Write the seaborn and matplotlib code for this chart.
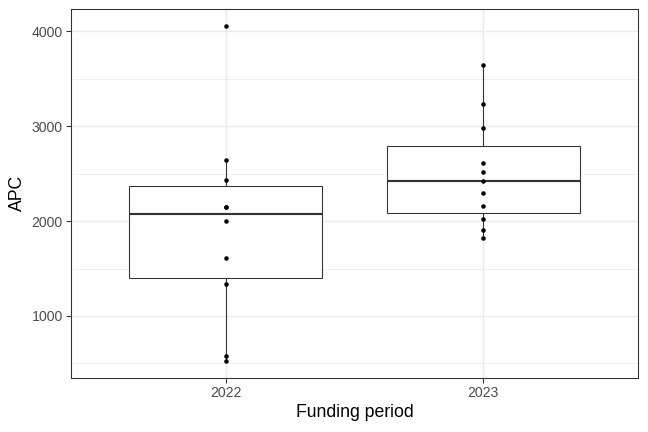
import matplotlib
matplotlib.use("Agg")
import matplotlib.pyplot as plt
import seaborn as sns
import pandas as pd
from matplotlib.ticker import MultipleLocator

periods = ["2022", "2023"]
apc_2022 = [4060, 2649, 2439, 2150, 2144, 2000, 1607, 1337, 582, 526]
apc_2023 = [3645, 3235, 2979, 2614, 2516, 2424, 2298, 2161, 2018, 1905, 1818]

df = pd.DataFrame({
    "Funding period": ["2022"] * len(apc_2022) + ["2023"] * len(apc_2023),
    "APC": apc_2022 + apc_2023,
})

sns.set_theme(style="white")
plt.rcParams["font.family"] = ["Liberation Sans", "DejaVu Sans"]

fig = plt.figure(figsize=(6.75, 4.5), dpi=96)
ax = fig.add_axes([71/648, 1-377.7/432, (638-71)/648, (377.7-9)/432])

dark = "#333333"
sns.boxplot(data=df, x="Funding period", y="APC", order=periods, ax=ax,
            width=0.75, showfliers=False, showcaps=False,
            color="white", linecolor=dark, linewidth=0.8,
            medianprops=dict(linewidth=1.6, color=dark),
            boxprops=dict(facecolor="white", edgecolor=dark),
            whiskerprops=dict(color=dark), zorder=2)
sns.stripplot(data=df, x="Funding period", y="APC", order=periods, ax=ax,
              jitter=False, color="black", size=3.4, linewidth=0, zorder=3)

ax.set_xlim(-0.6, 1.6)
ax.set_ylim(349, 4237)
ax.yaxis.set_major_locator(MultipleLocator(1000))
ax.yaxis.set_minor_locator(MultipleLocator(500))
ax.set_axisbelow(True)
ax.grid(True, which="major", color="#EBEBEB", linewidth=1.1)
ax.grid(True, which="minor", axis="y", color="#EBEBEB", linewidth=0.55)
ax.set_facecolor("white")
for s in ax.spines.values():
    s.set_visible(True)
    s.set_color(dark)
    s.set_linewidth(0.8)

ax.tick_params(axis="both", which="major", length=3.7, width=0.8, color=dark,
               labelcolor="#4D4D4D", labelsize=10.6, pad=2.5, left=True, bottom=True)
ax.tick_params(axis="y", which="minor", length=0)
ax.set_xlabel("Funding period", fontsize=13.2, color="black", labelpad=3)
ax.set_ylabel("APC", fontsize=13.2, color="black", labelpad=4)

fig.savefig("out.png", dpi=96)
